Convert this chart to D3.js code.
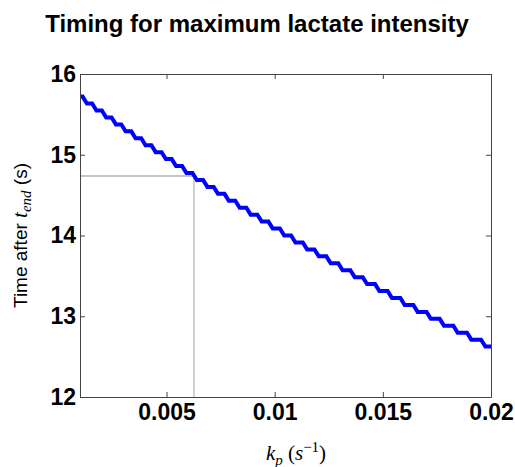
<!DOCTYPE html>
<html>
<head>
<meta charset="utf-8">
<script src="https://cdn.jsdelivr.net/npm/d3@7"></script>
<style>
body { margin: 0; background: #fff; }
</style>
</head>
<body>
<svg></svg>
<script>
const margin = { t: 74, r: 24, b: 70, l: 80 };
const size = { w: 515, h: 467 };
const svg = d3.select("svg");

svg.attr("width", size.w).attr("height", size.h);

// kp values where the curve drops one step
const stepKp = [
	0.00122, 0.00166, 0.00211, 0.00256, 0.00301, 0.00347, 0.00393, 0.0044,
	0.00487, 0.00534, 0.00582, 0.0063, 0.00679, 0.00728, 0.00778, 0.00828,
	0.00879, 0.0093, 0.00981, 0.01034, 0.01086, 0.0114, 0.01194, 0.01249,
	0.01304, 0.0136, 0.01417, 0.01474, 0.01532, 0.01591, 0.01651, 0.01712,
	0.01773, 0.01836, 0.01899, 0.01964,
];
// time level of each step (one more than the drops)
const stepTime = [
	15.72, 15.634, 15.548, 15.462, 15.376, 15.29, 15.204, 15.118, 15.032,
	14.946, 14.86, 14.774, 14.688, 14.602, 14.516, 14.43, 14.344, 14.258,
	14.172, 14.086, 14.0, 13.914, 13.828, 13.742, 13.656, 13.57, 13.484,
	13.398, 13.312, 13.226, 13.14, 13.054, 12.968, 12.882, 12.796, 12.71,
	12.624,
];
const kpRange = [0.001, 0.02];
const timeRange = [12, 16];
const xTicks = [0.005, 0.01, 0.015, 0.02];
const yTicks = [12, 13, 14, 15, 16];
const markKp = 0.00627;
const markTime = 14.737;

const ramp = 0.0001; // half width of each drop, in kp

let x = d3
	.scaleLinear()
	.domain(kpRange)
	.range([margin.l, size.w - margin.r]);
let y = d3
	.scaleLinear()
	.domain(timeRange)
	.range([size.h - margin.b, margin.t]);

// build staircase points
let pts = [[kpRange[0], stepTime[0]]];
stepKp.forEach(function (k, i) {
	pts.push([k - ramp, stepTime[i]]);
	pts.push([k + ramp, stepTime[i + 1]]);
});
pts.push([kpRange[1], stepTime[stepTime.length - 1]]);

// title
svg
	.append("text")
	.attr("x", 257)
	.attr("y", 32)
	.attr("text-anchor", "middle")
	.attr("font-family", "Liberation Sans, Arial, sans-serif")
	.attr("font-weight", "bold")
	.attr("font-size", 24)
	.text("Timing for maximum lactate intensity");

// marker lines
let markG = svg.append("g").attr("stroke-width", 1);
markG
	.append("line")
	.attr("stroke", "#8c8c8c")
	.attr("x1", x(kpRange[0]))
	.attr("x2", x(markKp))
	.attr("y1", y(markTime))
	.attr("y2", y(markTime));
markG
	.append("line")
	.attr("stroke", "#a6a6a6")
	.attr("x1", x(markKp))
	.attr("x2", x(markKp))
	.attr("y1", y(markTime))
	.attr("y2", y(timeRange[0]));

// curve
svg
	.append("path")
	.datum(pts)
	.attr("fill", "none")
	.attr("stroke", "#0000ff")
	.attr("stroke-width", 4)
	.attr("stroke-linejoin", "miter")
	.attr("d", d3.line().x((d) => x(d[0])).y((d) => y(d[1])));

// axes
function styleAxis(g) {
	g.attr("font-family", "Liberation Sans, Arial, sans-serif")
		.attr("font-weight", "bold")
		.attr("font-size", 23);
	g.selectAll("path, line").attr("stroke", "#444");
	g.selectAll("text").attr("fill", "#000");
}

svg
	.append("g")
	.attr("transform", `translate(0,${y(timeRange[0])})`)
	.call(
		d3
			.axisBottom(x)
			.tickValues(xTicks)
			.tickSizeInner(-5)
			.tickSizeOuter(0)
			.tickPadding(7)
			.tickFormat((d) => String(d))
	)
	.call(styleAxis);

svg
	.append("g")
	.attr("transform", `translate(0,${y(timeRange[1])})`)
	.call(
		d3
			.axisTop(x)
			.tickValues(xTicks)
			.tickSizeInner(-5)
			.tickSizeOuter(0)
			.tickFormat("")
	)
	.call(styleAxis);

svg
	.append("g")
	.attr("transform", `translate(${x(kpRange[0])},0)`)
	.call(
		d3
			.axisLeft(y)
			.tickValues(yTicks)
			.tickSizeInner(-5)
			.tickSizeOuter(0)
			.tickPadding(4)
			.tickFormat(d3.format("d"))
	)
	.call(styleAxis);

svg
	.append("g")
	.attr("transform", `translate(${x(kpRange[1])},0)`)
	.call(
		d3
			.axisRight(y)
			.tickValues(yTicks)
			.tickSizeInner(-5)
			.tickSizeOuter(0)
			.tickFormat("")
	)
	.call(styleAxis);

// x label
let xl = svg
	.append("text")
	.attr("x", 296)
	.attr("y", 460)
	.attr("text-anchor", "middle")
	.attr("font-family", "Liberation Serif, Times New Roman, serif")
	.attr("font-style", "italic")
	.attr("font-size", 21);
xl.append("tspan").text("k");
xl.append("tspan").attr("dy", 5).attr("font-size", 15).text("p");
xl.append("tspan").attr("dy", -5).text(" ");
xl.append("tspan").attr("font-style", "normal").text("(");
xl.append("tspan").text("s");
xl.append("tspan").attr("dy", -8).attr("font-size", 15).attr("font-style", "normal").text("\u22121");
xl.append("tspan").attr("dy", 8).attr("font-style", "normal").text(")");

// y label
let yl = svg
	.append("text")
	.attr("transform", `translate(27,${(y(timeRange[0]) + y(timeRange[1])) / 2}) rotate(-90)`)
	.attr("text-anchor", "middle")
	.attr("font-family", "Liberation Sans, Arial, sans-serif")
	.attr("font-size", 19);
yl.append("tspan").text("Time after ");
yl.append("tspan")
	.attr("font-family", "Liberation Serif, Times New Roman, serif")
	.attr("font-style", "italic")
	.attr("font-size", 21)
	.text("t");
yl.append("tspan")
	.attr("dy", 4)
	.attr("font-family", "Liberation Serif, Times New Roman, serif")
	.attr("font-style", "italic")
	.attr("font-size", 15)
	.text("end");
yl.append("tspan").attr("dy", -4).text(" (s)");
</script>
</body>
</html>
